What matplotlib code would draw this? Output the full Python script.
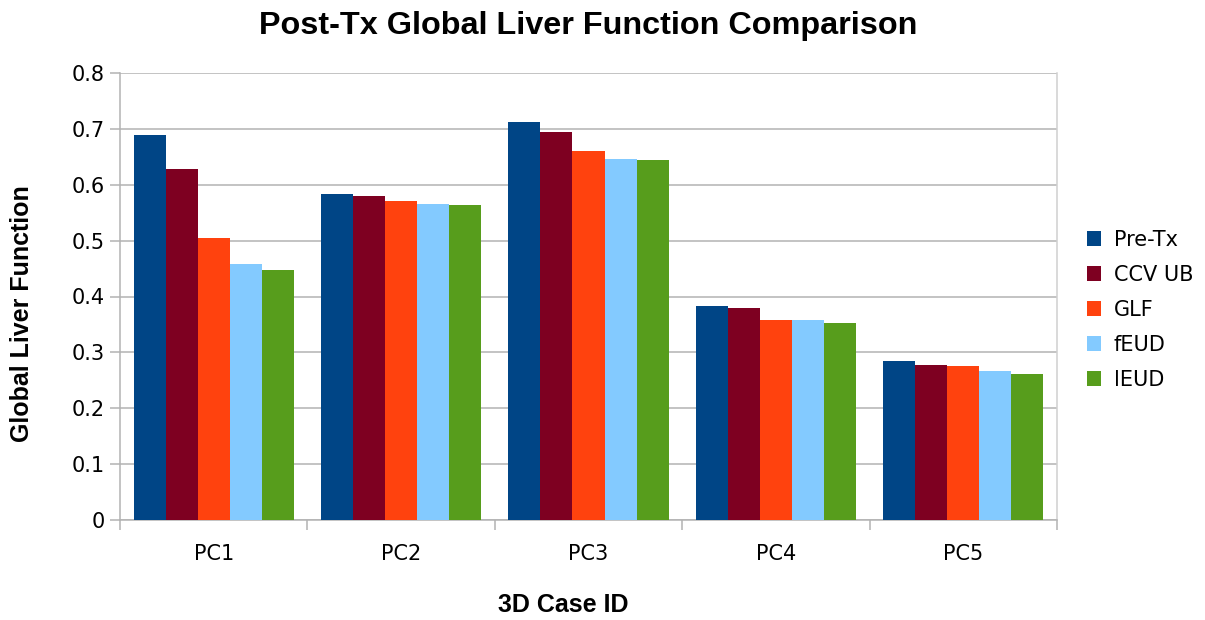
import numpy as np
import matplotlib
matplotlib.use('Agg')
import matplotlib.pyplot as plt

cases = ['PC1', 'PC2', 'PC3', 'PC4', 'PC5']
series = ['Pre-Tx', 'CCV UB', 'GLF', 'fEUD', 'lEUD']
pre_tx = [0.689, 0.584, 0.712, 0.383, 0.284]
ccv_ub = [0.629, 0.580, 0.694, 0.380, 0.277]
glf = [0.504, 0.571, 0.660, 0.358, 0.275]
feud = [0.459, 0.566, 0.646, 0.358, 0.266]
leud = [0.448, 0.564, 0.644, 0.353, 0.261]

colors = ['#004586', '#7e0021', '#ff420e', '#83caff', '#579d1c']
GRID = '#b3b3b3'

plt.rcParams['font.family'] = ['DejaVu Sans']

fig = plt.figure(figsize=(12.05, 6.2), dpi=100)
ax = fig.add_axes([120 / 1205, 100 / 620, 937 / 1205, 447 / 620])

x = np.arange(len(cases))
width = 0.171
values = [pre_tx, ccv_ub, glf, feud, leud]
for i, (name, vals) in enumerate(zip(series, values)):
    ax.bar(x + (i - 2) * width, vals, width, color=colors[i], label=name,
           zorder=3, linewidth=0)

ax.set_xlim(-0.5, len(cases) - 0.5)
ax.set_ylim(0, 0.8)
ax.set_yticks(np.arange(0, 0.81, 0.1))
ax.set_yticklabels(['0'] + ['%.1f' % v for v in np.arange(0.1, 0.81, 0.1)])
ax.yaxis.grid(True, color=GRID, linewidth=1.1, zorder=0)

# category labels in the middle, tick marks at the edges
ax.set_xticks(x)
ax.set_xticklabels(cases)
ax.set_xticks(np.arange(-0.5, len(cases)), minor=True)
ax.tick_params(axis='x', which='major', length=0, labelsize=15, pad=17)
ax.tick_params(axis='x', which='minor', length=7, color=GRID, width=1.1)
ax.tick_params(axis='y', length=7, color=GRID, width=1.1, labelsize=15,
               pad=4)

for side in ['left', 'bottom']:
    ax.spines[side].set_color(GRID)
    ax.spines[side].set_linewidth(1.1)
ax.spines['right'].set_color('#d0d0d0')
ax.spines['right'].set_linewidth(1.1)
ax.spines['top'].set_visible(False)

bold = dict(family='Liberation Sans', weight='bold')
ax.set_title('Post-Tx Global Liver Function Comparison', fontsize=23.3,
             pad=28, **bold)
ax.set_ylabel('Global Liver Function', fontsize=18, **bold)
ax.yaxis.set_label_coords(-0.092, 0.461)
ax.set_xlabel('3D Case ID', fontsize=18, **bold)
ax.xaxis.set_label_coords(0.473, -0.163)

ax.legend(loc='center left', bbox_to_anchor=(1068 / 1205, 310 / 620),
          bbox_transform=fig.transFigure, frameon=False, fontsize=15,
          handlelength=0.7, handleheight=0.7, handletextpad=0.6,
          labelspacing=0.72)

fig.savefig('out.png', dpi=100)
